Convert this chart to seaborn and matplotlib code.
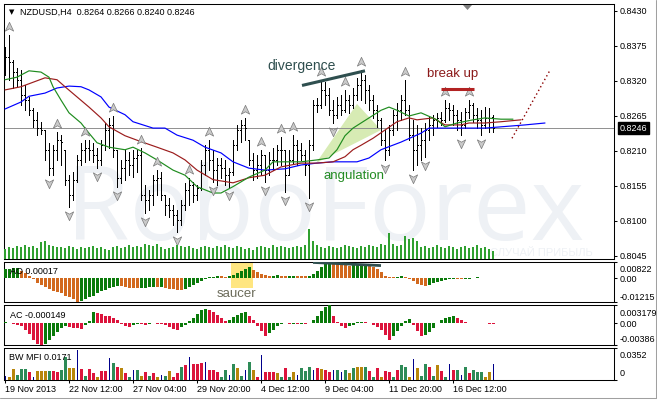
import numpy as np
import pandas as pd
import matplotlib
matplotlib.use("Agg")
import matplotlib.pyplot as plt
import seaborn as sns
from matplotlib.transforms import ScaledTranslation, blended_transform_factory
from matplotlib.path import Path
from matplotlib.patches import Polygon, Rectangle
from matplotlib.lines import Line2D

# ---------------- data (NZDUSD H4) ----------------
opens = [0.8365,0.8357,0.8350,0.8334,0.8322,0.8298,0.8290,0.8274,0.8259,0.8246,
         0.8243,0.8212,0.8183,0.8212,0.8227,0.8212,0.8165,0.8141,0.8165,0.8196,
         0.8212,0.8215,0.8212,0.8204,0.8196,0.8219,0.8243,0.8251,0.8212,0.8168,
         0.8183,0.8196,0.8188,0.8199,0.8204,0.8141,0.8133,0.8141,0.8165,0.8168,
         0.8141,0.8125,0.8117,0.8109,0.8102,0.8125,0.8149,0.8157,0.8141,0.8152,
         0.8188,0.8212,0.8196,0.8180,0.8188,0.8183,0.8172,0.8177,0.8219,0.8243,
         0.8251,0.8227,0.8196,0.8180,0.8188,0.8204,0.8180,0.8196,0.8196,0.8212,
         0.8212,0.8172,0.8196,0.8219,0.8212,0.8204,0.8188,0.8219,0.8282,0.8282,
         0.8306,0.8298,0.8274,0.8267,0.8282,0.8274,0.8290,0.8282,0.8298,0.8314,
         0.8322,0.8306,0.8290,0.8274,0.8259,0.8227,0.8212,0.8243,0.8267,0.8274,
         0.8290,0.8274,0.8235,0.8212,0.8219,0.8227,0.8243,0.8251,0.8259,0.8262,
         0.8259,0.8278,0.8274,0.8267,0.8259,0.8251,0.8271,0.8282,0.8267,0.8259,
         0.8251,0.8262,0.8264]
highs = [0.8373,0.8392,0.8353,0.8340,0.8337,0.8314,0.8295,0.8278,0.8271,0.8256,
         0.8243,0.8223,0.8219,0.8240,0.8235,0.8212,0.8172,0.8177,0.8204,0.8223,
         0.8227,0.8227,0.8223,0.8215,0.8227,0.8254,0.8262,0.8265,0.8212,0.8196,
         0.8212,0.8208,0.8212,0.8212,0.8215,0.8157,0.8149,0.8172,0.8180,0.8177,
         0.8141,0.8136,0.8125,0.8117,0.8133,0.8160,0.8168,0.8161,0.8157,0.8196,
         0.8219,0.8227,0.8212,0.8199,0.8199,0.8196,0.8183,0.8227,0.8251,0.8259,
         0.8262,0.8227,0.8207,0.8204,0.8212,0.8204,0.8208,0.8215,0.8219,0.8232,
         0.8212,0.8212,0.8235,0.8227,0.8223,0.8212,0.8227,0.8290,0.8293,0.8322,
         0.8318,0.8309,0.8290,0.8295,0.8298,0.8306,0.8298,0.8309,0.8325,0.8337,
         0.8329,0.8314,0.8298,0.8282,0.8262,0.8243,0.8251,0.8274,0.8285,0.8298,
         0.8322,0.8282,0.8259,0.8251,0.8246,0.8254,0.8264,0.8267,0.8270,0.8271,
         0.8290,0.8285,0.8282,0.8274,0.8271,0.8278,0.8290,0.8285,0.8278,0.8274,
         0.8279,0.8278,0.8266]
lows = [0.8329,0.8322,0.8309,0.8311,0.8282,0.8274,0.8267,0.8248,0.8235,0.8237,
        0.8196,0.8172,0.8172,0.8196,0.8188,0.8157,0.8122,0.8133,0.8161,0.8188,
        0.8193,0.8196,0.8193,0.8183,0.8188,0.8212,0.8215,0.8201,0.8154,0.8160,
        0.8165,0.8172,0.8169,0.8177,0.8133,0.8113,0.8117,0.8125,0.8141,0.8133,
        0.8109,0.8106,0.8094,0.8083,0.8094,0.8117,0.8125,0.8130,0.8133,0.8149,
        0.8172,0.8180,0.8161,0.8157,0.8168,0.8157,0.8154,0.8172,0.8212,0.8224,
        0.8227,0.8188,0.8165,0.8168,0.8172,0.8161,0.8172,0.8180,0.8188,0.8188,
        0.8146,0.8172,0.8191,0.8188,0.8196,0.8172,0.8136,0.8212,0.8271,0.8278,
        0.8282,0.8267,0.8254,0.8262,0.8267,0.8271,0.8270,0.8278,0.8290,0.8290,
        0.8285,0.8274,0.8262,0.8248,0.8219,0.8196,0.8204,0.8235,0.8243,0.8259,
        0.8267,0.8227,0.8180,0.8188,0.8196,0.8201,0.8227,0.8235,0.8248,0.8251,
        0.8256,0.8259,0.8251,0.8243,0.8235,0.8246,0.8262,0.8256,0.8246,0.8235,
        0.8246,0.8240,0.8240]
closes = [0.8357,0.8350,0.8334,0.8322,0.8298,0.8290,0.8274,0.8259,0.8246,0.8243,
          0.8212,0.8183,0.8212,0.8227,0.8224,0.8165,0.8141,0.8165,0.8196,0.8212,
          0.8215,0.8212,0.8204,0.8196,0.8219,0.8243,0.8251,0.8212,0.8168,0.8183,
          0.8196,0.8188,0.8199,0.8204,0.8141,0.8133,0.8141,0.8165,0.8168,0.8141,
          0.8125,0.8117,0.8109,0.8102,0.8125,0.8149,0.8157,0.8141,0.8152,0.8188,
          0.8212,0.8196,0.8180,0.8188,0.8183,0.8172,0.8177,0.8219,0.8243,0.8251,
          0.8246,0.8196,0.8180,0.8188,0.8204,0.8180,0.8196,0.8196,0.8212,0.8212,
          0.8172,0.8196,0.8219,0.8212,0.8204,0.8188,0.8219,0.8282,0.8282,0.8306,
          0.8298,0.8274,0.8267,0.8282,0.8274,0.8290,0.8282,0.8298,0.8314,0.8322,
          0.8306,0.8290,0.8274,0.8259,0.8227,0.8212,0.8243,0.8267,0.8274,0.8290,
          0.8274,0.8235,0.8212,0.8219,0.8227,0.8243,0.8251,0.8259,0.8262,0.8259,
          0.8278,0.8274,0.8267,0.8259,0.8251,0.8271,0.8282,0.8267,0.8259,0.8251,
          0.8262,0.8256,0.8246]
volumes = [1000,1200,1100,1300,1200,1400,1200,1300,1100,1700,
           1800,1400,1300,1200,1200,1100,1300,1200,1000,1200,
           1100,1200,1300,1100,1200,1000,900,1200,1300,1100,
           1200,1400,1200,1300,1200,1500,1400,1300,1500,1200,
           1000,1100,1200,1400,1300,1200,1300,1100,1000,1200,
           1300,1200,1100,1300,1200,1400,1200,1100,1300,1200,
           1000,1100,900,1200,1300,1200,1100,1400,1200,1300,
           1200,1100,1200,1300,1200,1400,3000,1800,1400,1200,
           1100,1300,1200,1100,1200,1400,1300,1200,1100,1300,
           1200,1400,1300,1200,1500,1400,2600,1500,1300,1400,
           2300,2000,2100,1800,1200,1300,1100,1200,1400,1200,
           1100,1300,1200,1000,1200,1300,1100,1200,1400,1100,
           1200,1000,800]

# Alligator lines (bar index, price)
jaw_idx = [0,4,6,10,13,16,19,21,24,26,30,32,37,40,43,47,50,54,57,61,65,70,74,78,82,88,91,94,99,104,106,110,115,120,124,130,135]
jaw_val = [0.8276,0.8287,0.8296,0.8301,0.8309,0.8312,0.8311,0.8306,0.8295,0.8279,0.8267,0.8256,0.8246,0.8246,0.8235,0.8227,
           0.8216,0.8207,0.8193,0.8183,0.8180,0.8182,0.8188,0.8191,0.8193,0.8193,0.8199,0.8212,0.8224,0.8238,0.8246,0.8246,
           0.8246,0.8246,0.8248,0.8251,0.8254]
teeth_idx = [0,4,7,10,13,15,18,21,24,26,30,33,38,42,45,48,52,57,61,65,69,74,78,82,85,87,89,92,95,98,101,103,107,110,114,116,120,124,129]
teeth_val = [0.8306,0.8311,0.8318,0.8325,0.8322,0.8311,0.8295,0.8279,0.8262,0.8248,0.8234,0.8227,0.8216,0.8207,0.8196,0.8180,
             0.8165,0.8160,0.8168,0.8172,0.8185,0.8191,0.8191,0.8193,0.8201,0.8212,0.8219,0.8230,0.8243,0.8256,0.8262,0.8259,
             0.8262,0.8251,0.8251,0.8254,0.8254,0.8256,0.8259]
lips_idx = [0,3,6,9,11,12,14,16,19,21,23,26,30,32,35,38,42,45,48,52,54,57,61,65,67,70,74,78,81,83,85,87,89,91,94,96,98,101,104,108,110,113,117,120,124,127]
lips_val = [0.8322,0.8326,0.8336,0.8334,0.8326,0.8311,0.8290,0.8270,0.8254,0.8238,0.8223,0.8216,0.8212,0.8216,0.8207,0.8196,
            0.8180,0.8172,0.8154,0.8144,0.8144,0.8154,0.8169,0.8180,0.8193,0.8193,0.8193,0.8196,0.8199,0.8212,0.8234,0.8246,
            0.8254,0.8262,0.8274,0.8279,0.8274,0.8265,0.8270,0.8259,0.8248,0.8254,0.8259,0.8262,0.8260,0.8260]

up_fractals = [1,13,20,27,34,38,46,51,60,64,69,72,79,85,89,100,110,116]
down_fractals = [11,16,23,28,35,43,52,56,65,70,76,82,95,102,105,114,119]

ao = [0.00442,0.00476,0.00505,0.00512,0.00374,0.00238,0.00102,-0.00068,-0.00238,-0.00374,
      -0.00476,-0.00578,-0.00646,-0.00714,-0.00782,-0.00884,-0.00969,-0.01071,-0.01215,-0.01139,
      -0.01054,-0.00969,-0.00884,-0.00782,-0.00680,-0.00595,-0.00510,-0.00442,-0.00391,-0.00425,
      -0.00459,-0.00493,-0.00510,-0.00527,-0.00510,-0.00493,-0.00476,-0.00459,-0.00476,-0.00459,
      -0.00510,-0.00544,-0.00578,-0.00612,-0.00629,-0.00561,-0.00459,-0.00340,-0.00238,-0.00136,
      -0.00051,0.00034,0.00068,0.00102,0.00085,0.00068,0.00102,0.00170,0.00272,0.00374,
      0.00476,0.00544,0.00425,0.00306,0.00204,0.00136,0.00102,0.00119,0.00136,0.00119,
      0.00102,0.00110,0.00119,0.00102,0.00090,0.00085,0.00102,0.00204,0.00374,0.00578,
      0.00748,0.00822,0.00765,0.00731,0.00697,0.00663,0.00629,0.00646,0.00663,0.00680,
      0.00697,0.00646,0.00561,0.00459,0.00306,0.00119,0.00068,0.00034,0.00051,0.00085,
      0.00068,-0.00034,-0.00170,-0.00289,-0.00357,-0.00391,-0.00340,-0.00272,-0.00204,-0.00153,
      -0.00102,-0.00068,-0.00051,-0.00060,-0.00068,-0.00051,-0.00034,0.00017,0.00034,0.00030,
      0.00026,0.00022,0.00017]
ac = [0.000176,0.000059,-0.000117,-0.000294,-0.000587,-0.001174,-0.001996,-0.002935,-0.003640,-0.003860,
      -0.003640,-0.003052,-0.002348,-0.001644,-0.000939,-0.000587,-0.000704,-0.000822,-0.000939,-0.001057,
      -0.000352,0.000294,0.001878,0.001761,0.001526,0.001291,0.001174,0.000939,0.000470,-0.000235,
      -0.000587,-0.000704,-0.000352,-0.000117,-0.000235,-0.000352,-0.000176,0.000059,-0.000117,-0.000176,
      -0.000352,-0.000704,-0.001057,-0.001174,-0.000704,-0.000352,0.000294,0.000880,0.001644,0.002231,
      0.002465,0.002348,0.001878,0.001468,0.000880,0.000352,0.000587,0.001057,0.001468,0.001761,
      0.001878,0.001291,0.000470,-0.000587,-0.001468,-0.002231,-0.001761,-0.001174,-0.000587,-0.000235,
      -0.000059,-0.000176,-0.000117,-0.000176,-0.000117,-0.000147,-0.000059,0.000470,0.001174,0.002055,
      0.002818,0.003179,0.001291,0.000235,-0.000587,-0.000822,-0.000587,-0.000294,0.000117,0.000235,
      0.000176,0.000059,-0.000352,-0.000704,-0.001291,-0.002113,-0.002935,-0.002348,-0.001468,-0.000587,
      0.000294,0.000704,-0.000294,-0.001468,-0.002348,-0.002113,-0.001526,-0.000822,0.000030,0.000470,
      0.000822,0.001057,0.001174,0.000939,0.000587,0.000117,0.000030,0.000059,0.000088,0.000030,
      -0.000059,-0.000088,-0.000149]
mfi = [0.0044,0.0029,0.0121,0.0055,0.0121,0.0121,0.0092,0.0037,0.0099,0.0099,
       0.0099,0.0099,0.0099,0.0092,0.0110,0.0257,0.0128,0.0128,0.0330,0.0121,
       0.0044,0.0121,0.0073,0.0037,0.0099,0.0099,0.0239,0.0184,0.0147,0.0128,
       0.0073,0.0037,0.0110,0.0110,0.0044,0.0092,0.0044,0.0073,0.0037,0.0055,
       0.0044,0.0099,0.0037,0.0073,0.0147,0.0165,0.0257,0.0172,0.0172,0.0184,
       0.0202,0.0110,0.0110,0.0092,0.0037,0.0110,0.0055,0.0172,0.0136,0.0044,
       0.0110,0.0202,0.0110,0.0037,0.0275,0.0092,0.0084,0.0084,0.0073,0.0037,
       0.0128,0.0037,0.0092,0.0055,0.0128,0.0099,0.0147,0.0110,0.0128,0.0121,
       0.0110,0.0092,0.0110,0.0110,0.0092,0.0110,0.0073,0.0128,0.0147,0.0147,
       0.0147,0.0099,0.0037,0.0128,0.0037,0.0099,0.0084,0.0037,0.0110,0.0165,
       0.0147,0.0037,0.0231,0.0128,0.0044,0.0172,0.0147,0.0044,0.0165,0.0099,
       0.0037,0.0172,0.0110,0.0110,0.0055,0.0147,0.0073,0.0110,0.0092,0.0084,
       0.0037,0.0084,0.0171]
mfi_kind = ("b o o g g g r b o o  o g r r g g o o b r  g r r o r r b g r o  "
            "r g b g o r g r o b  g o r r g r b r r r  b r r r g g b g o g  "
            "b g o r b r r r o g  r g o b g g g b r o  r r b g b g o g o o  "
            "g r g r o r r g r g  g o b o g g r g o r  g b r g b g r g g g  o o b").split()

price_ticks = [0.8430, 0.8375, 0.8320, 0.8265, 0.8210, 0.8155, 0.8100, 0.8045]
last_price = 0.8246
time_tick_idx = [0, 16, 32, 48, 64, 80, 96, 112]
time_labels = ["19 Nov 2013", "22 Nov 12:00", "27 Nov 04:00", "29 Nov 20:00",
               "4 Dec 12:00", "9 Dec 04:00", "11 Dec 20:00", "16 Dec 12:00"]

divergence_idx = [74.25, 90.0]
divergence_price = [0.8313, 0.8336]
breakup_idx = [109.0, 117.25]
breakup_price = [0.8307, 0.8307]
projection_idx = [126.75, 136.25]
projection_price = [0.8230, 0.8337]
angulation_idx = [77.75, 88.0, 94.0]
angulation_price = [0.8191, 0.8284, 0.8243]
ao_div_idx = [77, 94]
ao_div_val = [0.0080, 0.0064]
saucer_span = [56.6, 61.9]

# ---------------- figure ----------------
sns.set_theme(style="white")
plt.rcParams['font.family'] = ['Liberation Sans', 'DejaVu Sans']

W, H = 657, 400
fig = plt.figure(figsize=(W / 100, H / 100), dpi=100)
fig.patch.set_facecolor('white')
XL = (-0.25, 152.25)
n = len(closes)
idx = np.arange(n)
FS = 6.5
LW1 = 0.68  # about one pixel


def fx(x):
    return x / W


def fy(y):
    return 1 - y / H


def add_panel(x0, y0, x1, y1):
    a = fig.add_axes([x0 / W, 1 - y1 / H, (x1 - x0) / W, (y1 - y0) / H])
    a.set_facecolor('white')
    for s in a.spines.values():
        s.set_color('black')
        s.set_linewidth(0.75)
    a.set_xlim(*XL)
    a.tick_params(axis='x', bottom=False, labelbottom=False, top=False)
    a.yaxis.tick_right()
    a.tick_params(axis='y', right=True, left=False, direction='out', length=2.2,
                  width=0.75, color='black', labelright=False, labelleft=False)
    a.grid(False)
    return a


def right_labels(a, vals, texts, dys):
    tr = blended_transform_factory(a.transAxes, a.transData)
    a.set_yticks(vals)
    a.set_yticklabels([])
    for v, t, dy in zip(vals, texts, dys):
        a.annotate(t, xy=(1, v), xycoords=tr, xytext=(6, dy), textcoords='offset pixels',
                   ha='left', va='center', fontsize=FS, color='black', annotation_clip=False)


# ---- main price panel ----
ax = add_panel(4, 4, 614, 259)
ax.set_ylim(0.80403, 0.84410)
right_labels(ax, price_ticks, [f"{v:.4f}" for v in price_ticks], [0] * len(price_ticks))
tr_main = blended_transform_factory(ax.transAxes, ax.transData)
ax.annotate(f"{last_price:.4f}", xy=(1, last_price), xycoords=tr_main, xytext=(6, 0),
            textcoords='offset pixels', ha='left', va='center', fontsize=FS, color='white',
            annotation_clip=False,
            bbox=dict(boxstyle='square,pad=0.2', fc='black', ec='black'))
ax.axhline(last_price, color='#8C8C8C', lw=LW1, zorder=1.5)

# watermark
ax.text(fx(66), fy(240), 'RoboForex', transform=fig.transFigure, fontsize=74,
        family=['Open Sans', 'DejaVu Sans'], color='#EEF1F5', ha='left', va='baseline',
        zorder=0.5, clip_on=True)
ax.text(fx(593), fy(256), 'СЛУЧАЙ ПРИБЫЛЬ', transform=fig.transFigure, fontsize=8,
        color='#EEF1F5', ha='right', va='baseline', zorder=0.5, clip_on=True)

# angulation zone
ax.add_patch(Polygon(np.column_stack([angulation_idx, angulation_price]), closed=True,
                     fc='#D7EBB4', ec='none', zorder=1.2))

# OHLC bars
ax.vlines(idx, lows, highs, color='black', lw=LW1, antialiased=False, zorder=3)
ax.hlines(opens, idx - 0.25, idx, color='black', lw=LW1, antialiased=False, zorder=3)
ax.hlines(closes, idx, idx + 0.25, color='black', lw=LW1, antialiased=False, zorder=3)

# Alligator
sns.lineplot(x=jaw_idx, y=jaw_val, ax=ax, color='#0000FF', lw=0.85, zorder=4,
             estimator=None, sort=False, legend=False)
sns.lineplot(x=teeth_idx, y=teeth_val, ax=ax, color='#9B1C1C', lw=0.85, zorder=4,
             estimator=None, sort=False, legend=False)
sns.lineplot(x=lips_idx, y=lips_val, ax=ax, color='#1E8C1E', lw=0.85, zorder=4,
             estimator=None, sort=False, legend=False)
ax.set_xlim(*XL)
ax.set_ylim(0.80403, 0.84410)
ax.set_xlabel('')
ax.set_ylabel('')

# fractals
up_marker = Path([(0, 1), (0.8, -0.7), (0, -0.25), (-0.8, -0.7), (0, 1)],
                 [Path.MOVETO, Path.LINETO, Path.LINETO, Path.LINETO, Path.CLOSEPOLY])
down_marker = Path([(0, -1), (0.8, 0.7), (0, 0.25), (-0.8, 0.7), (0, -1)],
                   [Path.MOVETO, Path.LINETO, Path.LINETO, Path.LINETO, Path.CLOSEPOLY])
up_tr = ax.transData + ScaledTranslation(0, 8 / 100, fig.dpi_scale_trans)
dn_tr = ax.transData + ScaledTranslation(0, -8 / 100, fig.dpi_scale_trans)
ax.plot(up_fractals, [highs[i] for i in up_fractals], ls='none', marker=up_marker, ms=7.5,
        mfc='#CACACA', mec='#7A7A7A', mew=0.5, transform=up_tr, zorder=5)
ax.plot(down_fractals, [lows[i] for i in down_fractals], ls='none', marker=down_marker, ms=7.5,
        mfc='#CACACA', mec='#7A7A7A', mew=0.5, transform=dn_tr, zorder=5)

# annotations on price chart
ax.plot(divergence_idx, divergence_price, color='#2F4F4F', lw=2.2, solid_capstyle='butt', zorder=6)
ax.plot(breakup_idx, breakup_price, color='#B22222', lw=2.2, solid_capstyle='butt', zorder=6)
ax.plot(projection_idx, projection_price, color='#8B0000', lw=1.0, ls=(0, (1, 2)), zorder=6,
        clip_on=False)

# volume (separate overlay scale)
vax = fig.add_axes(ax.get_position())
vax.patch.set_visible(False)
vax.axis('off')
vax.set_xlim(*XL)
vax.set_ylim(0, 25500)
vax.bar(idx, volumes, width=0.3, color='#30A030', lw=0, antialiased=False)

# ---- AO panel ----
ax_ao = add_panel(4, 262, 614, 302)
ax_ao.set_ylim(-0.01215, 0.00822)
right_labels(ax_ao, [0.00822, 0.0, -0.01215], ["0.00822", "0.00", "-0.01215"], [-7, -1, 5])
ao_col = ['#0A7A0A' if (i == 0 or ao[i] > ao[i - 1]) else '#D2691E' for i in range(n)]
ax_ao.add_patch(Rectangle((saucer_span[0], 0.35), saucer_span[1] - saucer_span[0], 0.65,
                          transform=blended_transform_factory(ax_ao.transData, ax_ao.transAxes),
                          fc='#FFE680', ec='none', zorder=1))
ax_ao.bar(idx, ao, width=0.75, color=ao_col, lw=0, antialiased=False, zorder=3)
ax_ao.plot(ao_div_idx, ao_div_val, color='#2F4F4F', lw=2.0, solid_capstyle='butt', zorder=4)

# ---- AC panel ----
ax_ac = add_panel(4, 305, 614, 345)
ax_ac.set_ylim(-0.00386, 0.003179)
right_labels(ax_ac, [0.003179, 0.0, -0.00386], ["0.003179", "0.00", "-0.00386"], [-8, -1, 6])
ac_col = ['#0A7A0A' if (i == 0 or ac[i] > ac[i - 1]) else '#DC143C' for i in range(n)]
ax_ac.bar(idx, ac, width=0.75, color=ac_col, lw=0, antialiased=False, zorder=3)

# ---- BW MFI panel ----
ax_mf = add_panel(4, 348, 614, 380)
ax_mf.set_ylim(0, 0.0352)
right_labels(ax_mf, [0.0352, 0.0], ["0.0352", "0"], [-7, 7])
kind_col = {'g': '#2E8B57', 'o': '#B8860B', 'r': '#DC143C', 'b': '#00008B'}
mf_col = [kind_col[k] for k in mfi_kind]
mf_w = [0.25 if k == 'b' else 0.75 for k in mfi_kind]
ax_mf.bar(idx, mfi, width=mf_w, color=mf_col, lw=0, antialiased=False, zorder=3)
ax_mf.tick_params(axis='x', bottom=True, labelbottom=True, direction='out', length=2.2,
                  width=0.75, pad=1.5, labelsize=FS, colors='black')
ax_mf.set_xticks(time_tick_idx)
ax_mf.set_xticklabels(time_labels, ha='left')

# ---- panel texts ----
fig.text(fx(9), fy(12.5), '▼', fontsize=5, color='black', va='center', ha='left',
         family=['DejaVu Sans'])
fig.text(fx(20), fy(12.5), 'NZDUSD,H4  0.8264 0.8266 0.8240 0.8246', fontsize=FS,
         color='black', va='center', ha='left')
fig.text(fx(10), fy(271), 'AO 0.00017', fontsize=FS, color='black', va='center', ha='left')
fig.text(fx(10), fy(315), 'AC -0.000149', fontsize=FS, color='black', va='center', ha='left')
fig.text(fx(9), fy(357), 'BW MFI 0.0171', fontsize=FS, color='black', va='center', ha='left')

fig.text(fx(267), fy(66), 'divergence', fontsize=10, color='#2F4F4F', va='center', ha='left')
fig.text(fx(427), fy(74), 'break up', fontsize=9.5, color='#8B1A1A', va='center', ha='left')
fig.text(fx(323), fy(176), 'angulation', fontsize=9.5, color='#228B22', va='center', ha='left')
fig.text(fx(217), fy(294), 'saucer', fontsize=9.5, color='#6B6B5A', va='center', ha='left')

# chart-shift marker and outer frame
fig.add_artist(Polygon([(fx(463), fy(5)), (fx(472), fy(5)), (fx(467.5), fy(10))],
                       closed=True, transform=fig.transFigure, fc='#808080', ec='none'))
fig.add_artist(Line2D([0, fx(655.5)], [fy(397.5), fy(397.5)], transform=fig.transFigure,
                      color='#A0A0A0', lw=0.75))
fig.add_artist(Line2D([fx(655.5), fx(655.5)], [fy(397.5), 1], transform=fig.transFigure,
                      color='#A0A0A0', lw=0.75))

fig.savefig('out.png', dpi=100, facecolor='white')
